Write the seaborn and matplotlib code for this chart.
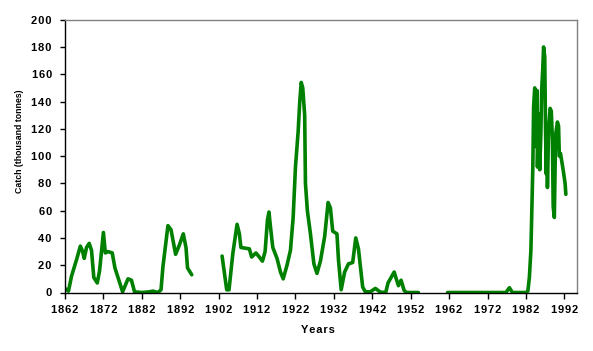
import matplotlib
matplotlib.use("Agg")
import matplotlib.pyplot as plt
import seaborn as sns
import pandas as pd

# Segment 1: 1862-1895
years_1 = [1862.0, 1862.9, 1863.7, 1865.0, 1866.0, 1866.6, 1867.0, 1867.6, 1868.3, 1868.9,
           1869.5, 1870.4, 1871.0, 1872.0, 1872.5, 1873.2, 1874.3, 1875.0, 1875.8, 1877.0,
           1878.4, 1879.3, 1880.1, 1882.0, 1884.0, 1884.9, 1886.2, 1887.0, 1887.5, 1888.8,
           1889.6, 1890.8, 1891.8, 1892.8, 1893.5, 1893.9, 1895.0]
catch_1 = [3, 1, 12, 24, 34, 30, 25, 33, 36, 31,
           11, 7, 16, 44, 29, 30, 29, 18, 11, 0.5,
           10, 9, 0.5, 0, 0.5, 1, 0, 2, 19, 49,
           46, 28, 35, 43, 33, 18, 13]

# Segment 2: 1903-1954
years_2 = [1902.9, 1904.1, 1904.7, 1905.7, 1906.8, 1907.4, 1907.8, 1910.0, 1910.6, 1911.7,
           1912.3, 1913.4, 1914.1, 1914.7, 1915.1, 1915.5, 1916.1, 1917.2, 1918.1, 1918.8,
           1919.8, 1920.7, 1921.4, 1922.0, 1922.7, 1923.1, 1923.5, 1923.9, 1924.4, 1924.6,
           1925.1, 1925.9, 1926.8, 1927.6, 1928.5, 1929.6, 1930.5, 1931.1, 1931.7, 1932.8,
           1933.2, 1933.9, 1934.8, 1935.8, 1936.9, 1937.7, 1938.4, 1939.5, 1940.2, 1941.5,
           1942.8, 1944.1, 1945.5, 1946.1, 1947.7, 1948.8, 1949.5, 1950.3, 1950.9, 1954.0]
catch_2 = [26.7, 2, 2, 28.7, 50, 43, 33, 32, 26, 29,
           27, 23, 30, 53, 59, 48, 33, 25, 15, 10,
           20, 31, 55, 92, 118, 139, 154, 150, 130, 80,
           60, 43, 21, 14, 23, 41, 66, 62, 45, 43,
           24, 2, 15, 21, 22, 40, 32, 4, 0.5, 0.5,
           3, 0.3, 0, 7, 15, 5, 9, 1.5, 0, 0]

# Segment 3: 1962-1992
years_3 = [1961.6, 1976.8, 1977.7, 1978.5, 1982.0, 1982.5, 1982.9, 1983.3, 1983.8, 1984.0,
           1984.3, 1984.6, 1984.9, 1985.0, 1985.3, 1985.6, 1985.9, 1986.1, 1986.4, 1986.6,
           1986.9, 1987.1, 1987.3, 1987.45, 1987.6, 1987.9, 1988.3, 1988.6, 1988.9, 1989.1,
           1989.4, 1989.6, 1989.8, 1990.2, 1990.5, 1990.7, 1991.0, 1991.4, 1991.8, 1992.2,
           1992.4]
catch_3 = [0, 0, 3.5, 0, 0, 1, 11, 31, 92, 136,
           150, 107, 148, 92, 131, 90, 117, 148, 165, 180,
           173, 121, 87, 120, 77, 119, 135, 133, 112, 63,
           55, 92, 117, 125, 122, 100, 102, 95, 88, 80,
           72]

x_ticks = list(range(1862, 1993, 10))
y_ticks = list(range(0, 201, 20))

df = pd.concat([
    pd.DataFrame({"year": years_1, "catch": catch_1, "seg": 1}),
    pd.DataFrame({"year": years_2, "catch": catch_2, "seg": 2}),
    pd.DataFrame({"year": years_3, "catch": catch_3, "seg": 3}),
], ignore_index=True)

sns.set_style("white")
plt.rcParams["font.family"] = ["Liberation Sans", "DejaVu Sans"]
plt.rcParams["text.color"] = "black"
plt.rcParams["axes.labelcolor"] = "black"
plt.rcParams["xtick.color"] = "black"
plt.rcParams["ytick.color"] = "black"

def spaced(s):
    return "\u200a".join(s)

fig = plt.figure(figsize=(5.93, 3.51), dpi=100)
ax = fig.add_axes([65/593, 1-292.5/351, 512/593, (292.5-19.7)/351])

sns.lineplot(data=df, x="year", y="catch", units="seg", estimator=None,
             color="#008000", linewidth=2.6, ax=ax, legend=False)

ax.set_xlim(1862, 1995.3)
ax.set_ylim(0, 200)
ax.set_xticks(x_ticks)
ax.set_yticks(y_ticks)
ax.set_xticklabels([spaced(str(t)) for t in x_ticks], fontsize=8, fontweight="bold", color="black")
ax.set_yticklabels([spaced(str(t)) for t in y_ticks], fontsize=8, fontweight="bold", color="black")
ax.tick_params(axis="x", direction="out", length=4, width=1, color="black", pad=5)
ax.tick_params(axis="y", direction="out", length=3.5, width=1, color="black", pad=6)
ax.xaxis.set_ticks_position("bottom")
ax.yaxis.set_ticks_position("left")

for s in ["left", "bottom"]:
    ax.spines[s].set_color("black")
    ax.spines[s].set_linewidth(1)
for s in ["top", "right"]:
    ax.spines[s].set_color("#808080")
    ax.spines[s].set_linewidth(1)
    ax.spines[s].set_visible(True)

ax.set_xlabel(spaced("Years"), fontsize=8, fontweight="bold", color="black")
ax.set_ylabel("Catch (thousand tonnes)", fontsize=6.3, fontweight="bold", color="black")
ax.xaxis.set_label_coords((318-65)/512, (292.5-325)/272.8)
ax.yaxis.set_label_coords((24-65)/512, (292.5-141.5)/272.8)
ax.grid(False)

fig.savefig("out.png", dpi=100)
